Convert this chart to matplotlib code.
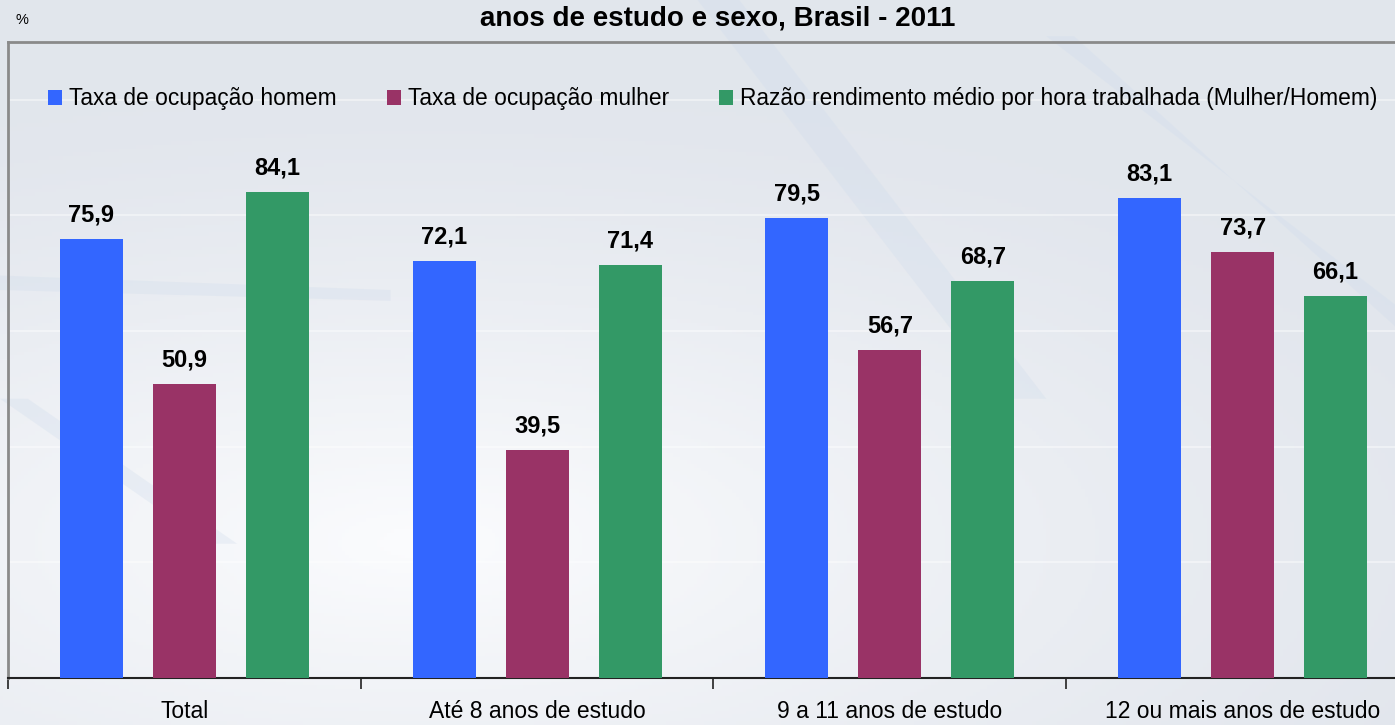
import numpy as np
import matplotlib
matplotlib.use("Agg")
import matplotlib.pyplot as plt
from matplotlib.patches import Polygon

plt.rcParams['font.family'] = ['Liberation Sans', 'DejaVu Sans']

categories = ["Total", "Até 8 anos de estudo", "9 a 11 anos de estudo", "12 ou mais anos de estudo"]
series_names = ["Taxa de ocupação homem", "Taxa de ocupação mulher",
                "Razão rendimento médio por hora trabalhada (Mulher/Homem)"]
homem = [75.9, 72.1, 79.5, 83.1]
mulher = [50.9, 39.5, 56.7, 73.7]
razao = [84.1, 71.4, 68.7, 66.1]
colors = ["#3366FF", "#993366", "#339966"]

W, H = 1395, 725
fig = plt.figure(figsize=(W / 100, H / 100), dpi=100)

# background
bg = fig.add_axes([0, 0, 1, 1], zorder=-10)
yy, xx = np.mgrid[0:1:200j, 0:1:400j]
d = np.clip(1.0 - np.hypot((xx - 0.3) * 1.2, (yy - 0.25) * 1.6), 0, 1)
base = np.array([0.886, 0.902, 0.929])
white = np.array([0.985, 0.988, 0.995])
img = base[None, None, :] + (white - base)[None, None, :] * (d[..., None] ** 1.3)
bg.imshow(img, extent=[0, 1, 0, 1], origin='lower', aspect='auto')
stripes = [
    [(0.0, 0.62), (0.28, 0.6), (0.28, 0.585), (0.0, 0.6)],
    [(0.0, 0.45), (0.02, 0.45), (0.17, 0.25), (0.15, 0.25)],
    [(0.50, 1.0), (0.53, 1.0), (0.75, 0.45), (0.72, 0.45)],
    [(0.75, 0.95), (0.77, 0.95), (1.0, 0.55), (1.0, 0.58)],
]
for s in stripes:
    bg.add_patch(Polygon(s, closed=True, color="#cfdcec", alpha=0.3, lw=0))
bg.set_xlim(0, 1)
bg.set_ylim(0, 1)
bg.axis('off')

left = 8 / W
right = 1419 / W
bottom = (H - 678) / H
top = (H - 42) / H
ax = fig.add_axes([left, bottom, right - left, top - bottom])
ax.set_facecolor('none')

x = np.arange(len(categories))
bw = 63 / 352.75
off = 93 / 352.75
for i, (vals, c, name) in enumerate(zip([homem, mulher, razao], colors, series_names)):
    pos = x + (i - 1) * off
    ax.bar(pos, vals, width=bw, color=c, label=name, zorder=3)
    for p, v in zip(pos, vals):
        ax.annotate(f"{v:.1f}".replace('.', ','), (p, v), xytext=(0, 9),
                    textcoords='offset points', ha='center', va='bottom',
                    fontsize=17, fontweight='bold', color='black', zorder=4)

ax.set_xlim(-0.5, 3.5)
ax.set_ylim(0, 110)
ax.set_yticks([0, 20, 40, 60, 80, 100])
ax.set_yticklabels([])
ax.tick_params(axis='y', length=0)
ax.yaxis.grid(True, color='white', lw=1.2, alpha=0.5, zorder=1)
ax.set_axisbelow(True)

ax.set_xticks([-0.5, 0.5, 1.5, 2.5, 3.5])
ax.set_xticklabels([])
ax.set_xticks(x, minor=True)
ax.set_xticklabels(categories, minor=True, fontsize=16.5)
ax.tick_params(axis='x', which='minor', length=0, pad=16)
ax.tick_params(axis='x', which='major', length=8, width=1.2, color='#222222', direction='out')

for side in ['top', 'left', 'right']:
    ax.spines[side].set_color('#8a8a8a')
    ax.spines[side].set_linewidth(2)
ax.spines['bottom'].set_color('#222222')
ax.spines['bottom'].set_linewidth(1.5)

leg = fig.legend(loc='center left', bbox_to_anchor=(48 / W, 1 - 99 / H), ncol=3,
                 frameon=False, fontsize=16.4, handlelength=0.62, handleheight=0.62,
                 handletextpad=0.3, columnspacing=2.2, borderpad=0, borderaxespad=0)

fig.text(718 / W, 1 - 19 / H, "anos de estudo e sexo, Brasil - 2011", ha='center', va='center',
         fontsize=20, fontweight='bold', color='black')
fig.text(15 / W, 1 - 20 / H, "%", ha='left', va='center', fontsize=10.5, color='black')

fig.savefig("out.png", dpi=100)
